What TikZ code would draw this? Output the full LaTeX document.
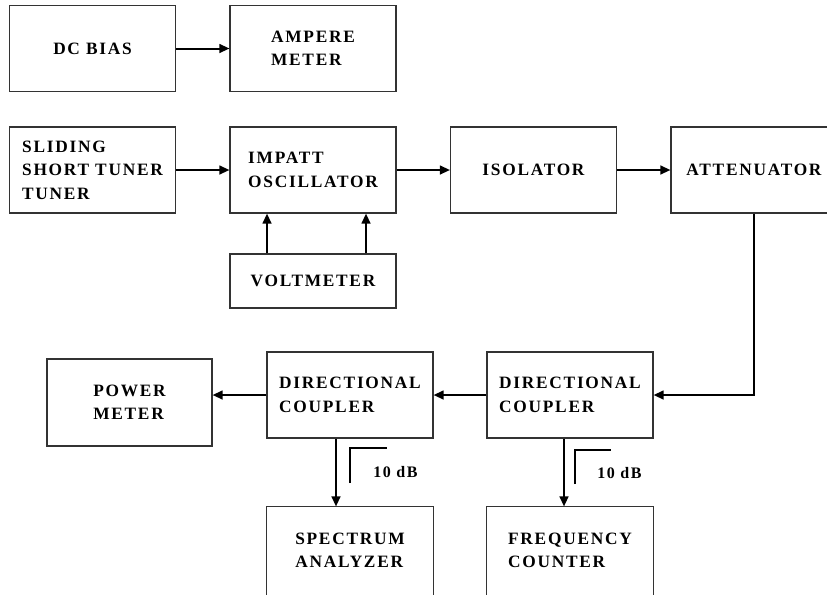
\documentclass[tikz,border=0pt]{standalone}
\usepackage{fontspec}
\setmainfont{Liberation Serif}[LetterSpace=10]
\usetikzlibrary{arrows.meta}
\begin{document}
\begin{tikzpicture}[x=0.75pt,y=-0.75pt,
    blk/.style={draw=black!80, line width=0.8pt, minimum width=124.5pt, minimum height=64.5pt,
      align=left, inner sep=0pt, font=\fontsize{13pt}{17.5pt}\selectfont\bfseries},
    frame/.style={draw=black!80, line width=0.8pt},
    arr/.style={-{Triangle[length=7.5pt,width=6.5pt]}, line width=1.5pt},
    lbl/.style={anchor=west, inner sep=0pt, font=\fontsize{12pt}{14pt}\selectfont\bfseries}]
  \clip (0,0) rectangle (827,594);
  \node [blk] (dcbias) at (92.5,48.5) {DC BIAS};
  \node [blk] (ampere) at (313,48.5) {AMPERE\\METER};
  \node [blk] (sliding) at (92.5,170) {SLIDING\\SHORT TUNER\\TUNER};
  \node [blk] (impatt) at (313,170) {IMPATT\\OSCILLATOR};
  \node [blk] (isolator) at (533.5,170) {ISOLATOR};
  \node [blk] (atten) at (754,170) {ATTENUATOR};
  \node [blk, minimum height=40.5pt] (volt) at (313,281) {VOLTMETER};
  \node [blk, minimum width=123.75pt, minimum height=65.25pt] (power) at (129.5,402.5) {POWER\\METER};
  \node [blk] (coupB) at (350,395) {DIRECTIONAL\\COUPLER};
  \node [blk] (coupA) at (570,395) {DIRECTIONAL\\COUPLER};
  \node [blk, draw=none] (spectrum) at (350,550) {SPECTRUM\\ANALYZER};
  \node [blk, draw=none] (freq) at (570,550) {FREQUENCY\\COUNTER};
  \draw [frame] ([yshift=-15pt]spectrum.south west) -- (spectrum.north west) -- (spectrum.north east) -- ([yshift=-15pt]spectrum.south east);
  \draw [frame] ([yshift=-15pt]freq.south west) -- (freq.north west) -- (freq.north east) -- ([yshift=-15pt]freq.south east);
  \draw [arr] (dcbias) -- (ampere);
  \draw [arr] (sliding) -- (impatt);
  \draw [arr] (impatt) -- (isolator);
  \draw [arr] (isolator) -- (atten);
  \draw [arr] ([xshift=-34.5pt]volt.north) -- ([xshift=-34.5pt]impatt.south);
  \draw [arr] ([xshift=39.75pt]volt.north) -- ([xshift=39.75pt]impatt.south);
  \draw [arr] (atten.south) |- (coupA.east);
  \draw [arr] (coupA) -- (coupB);
  \draw [arr] (coupB.west) -- (coupB.west -| power.east);
  \draw [arr] ([xshift=-10.5pt]coupB.south) -- ([xshift=-10.5pt]spectrum.north);
  \draw [arr] ([xshift=-4.5pt]coupA.south) -- ([xshift=-4.5pt]freq.north);
  \draw [line width=1.3pt] (350,483) -- (350,448) -- (387,448);
  \draw [line width=1.3pt] (575,484) -- (575,450) -- (611,450);
  \node [lbl] (dbB) at (373,472) {10 dB};
  \node [lbl] (dbA) at (597,473) {10 dB};
\end{tikzpicture}
\end{document}
